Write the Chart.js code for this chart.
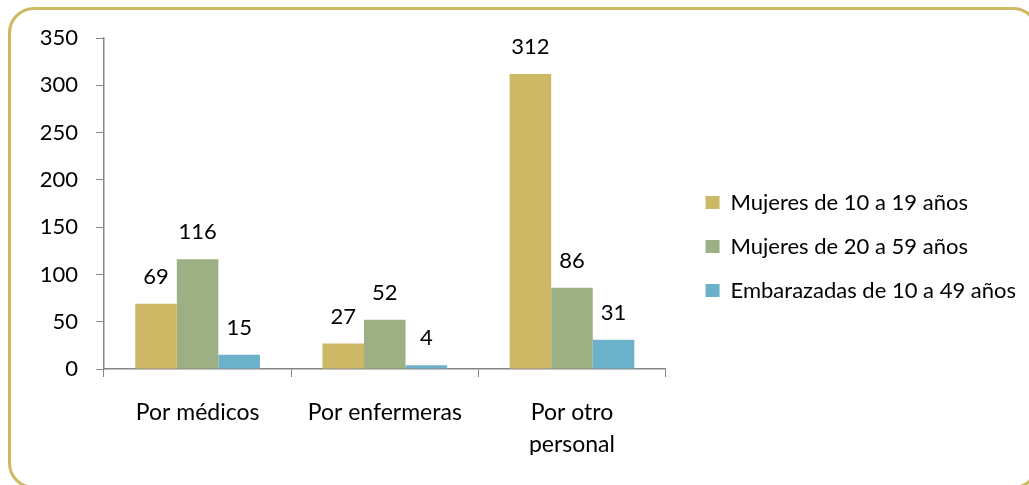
<!DOCTYPE html>
<html>
<head>
<meta charset="utf-8">
<script src="https://cdn.jsdelivr.net/npm/chart.js@4"></script>
<style>
  html, body { margin: 0; padding: 0; background: #fff; overflow: hidden; }
  #wrap { position: relative; width: 1029px; height: 485px; }
  #chart { position: absolute; left: 0; top: 0; }
  #frame {
    position: absolute; left: 8px; top: 7px; width: 1031px; height: 482px;
    box-sizing: border-box; border: 3px solid #CFB862; border-radius: 26px;
    pointer-events: none;
  }
</style>
</head>
<body>
<div id="wrap">
  <canvas id="chart" width="1029" height="485"></canvas>
  <div id="frame"></div>
</div>
<script>
// Datos
const categories = ['Por médicos', 'Por enfermeras', ['Por otro', 'personal']];
const seriesNames = ['Mujeres de 10 a 19 años', 'Mujeres de 20 a 59 años', 'Embarazadas de 10 a 49 años'];
const mujeres10a19 = [69, 27, 312];
const mujeres20a59 = [116, 52, 86];
const embarazadas10a49 = [15, 4, 31];
const seriesColors = ['#CDB866', '#9CB083', '#6BB1CA'];

const FONT = 'Lato, "Open Sans", sans-serif';

// Etiquetas de valor encima de cada barra
const valueLabels = {
    id: 'valueLabels',
    afterDatasetsDraw(chart) {
        const ctx = chart.ctx;
        ctx.save();
        ctx.font = '22px ' + FONT;
        ctx.fillStyle = '#000';
        ctx.textAlign = 'center';
        ctx.textBaseline = 'middle';
        chart.data.datasets.forEach((ds, i) => {
            chart.getDatasetMeta(i).data.forEach((bar, j) => {
                ctx.fillText(ds.data[j], bar.x, bar.y - 27);
            });
        });
        ctx.restore();
    }
};

const allSeries = [mujeres10a19, mujeres20a59, embarazadas10a49];

new Chart(document.getElementById('chart'), {
    type: 'bar',
    data: {
        labels: categories,
        datasets: allSeries.map((values, i) => ({
            label: seriesNames[i],
            data: values,
            backgroundColor: seriesColors[i],
            borderWidth: 0,
            categoryPercentage: 0.666,
            barPercentage: 1.0
        }))
    },
    options: {
        responsive: false,
        animation: false,
        layout: { padding: { left: 0, top: 38, right: 3, bottom: 30 } },
        plugins: {
            legend: {
                position: 'right',
                align: 'center',
                maxWidth: 400,
                labels: {
                    boxWidth: 14,
                    boxHeight: 13,
                    padding: 22,
                    color: '#000',
                    font: { family: FONT, size: 22 }
                }
            },
            tooltip: { enabled: false }
        },
        scales: {
            x: {
                grid: { display: true, drawOnChartArea: false, color: '#868686', tickLength: 8, offset: true },
                border: { display: true, color: '#868686', width: 1.5 },
                ticks: { color: '#000', padding: 19, font: { family: FONT, size: 23, lineHeight: 1.4 } },
                afterFit: s => { s.height = 86; }
            },
            y: {
                min: 0,
                max: 350,
                ticks: { stepSize: 50, color: '#000', padding: 18, font: { family: FONT, size: 22 } },
                grid: { display: true, drawOnChartArea: false, color: '#868686', tickLength: 8 },
                border: { display: true, color: '#868686', width: 1.5 },
                afterFit: s => { s.width = 104; }
            },
            gap: {
                position: 'right',
                display: true,
                grid: { display: false },
                border: { display: false },
                ticks: { display: false },
                afterFit: s => { s.width = 18; }
            }
        }
    },
    plugins: [valueLabels]
});
</script>
</body>
</html>
